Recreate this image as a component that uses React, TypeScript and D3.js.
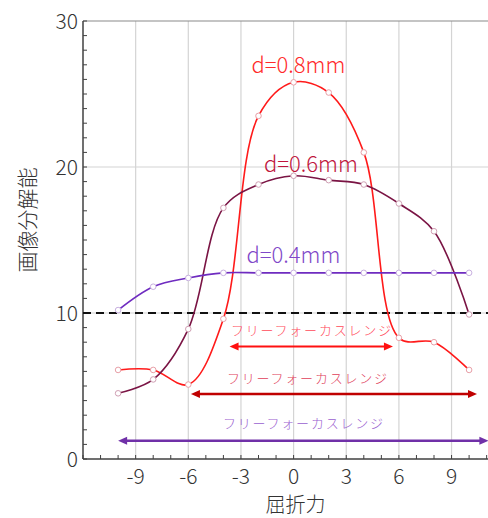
import React from "react";
import * as d3 from "d3";

const xs = [-10, -8, -6, -4, -2, 0, 2, 4, 6, 8, 10];
const d04 = [10.2, 11.8, 12.4, 12.75, 12.75, 12.75, 12.75, 12.75, 12.75, 12.75, 12.75];
const d06 = [4.5, 5.45, 8.9, 17.2, 18.8, 19.4, 19.1, 18.8, 17.5, 15.6, 9.9];
const d08 = [6.1, 6.1, 5.1, 9.6, 23.5, 25.8, 25.1, 21.0, 8.3, 8.0, 6.1];
const xTicks = [-9, -6, -3, 0, 3, 6, 9];
const yTicks = [0, 10, 20, 30];
const seriesNames = ["d=0.8mm", "d=0.6mm", "d=0.4mm"];
const rangeLabel = "フリーフォーカスレンジ";
const rangeStart = [-3.65, -5.85, -10];
const rangeEnd = [5.66, 10.45, 11.1];
const rangeLevel = [7.7, 4.45, 1.25];

const W = 488;
const H = 518;
const FONT = "'Noto Sans CJK JP', 'Noto Sans', sans-serif";

export default function App() {
  const x = d3.scaleLinear().domain([-12, 12]).range([83, 504.2]);
  const y = d3.scaleLinear().domain([0, 30]).range([459, 21]);
  const line = d3
    .line<[number, number]>()
    .x((d) => x(d[0]))
    .y((d) => y(d[1]))
    .curve(d3.curveCatmullRom.alpha(0.5));

  const series = [
    { vals: d08, color: "#ff1a1a", marker: "#e8a0a8", width: 1.6 },
    { vals: d06, color: "#7a1444", marker: "#d0a0b4", width: 1.6 },
    { vals: d04, color: "#6f2cc0", marker: "#c8b0e0", width: 1.6 },
  ];

  const labels = [
    { text: seriesNames[0], x: 251.5, y: 73, color: "#ff2a2a" },
    { text: seriesNames[1], x: 264, y: 171.5, color: "#c0143c" },
    { text: seriesNames[2], x: 246.5, y: 263, color: "#8048c8" },
  ];

  const ranges = [
    { color: "#ff1010", text: "#ff4a5a", tx: 231, ty: 335, w: 2 },
    { color: "#c00000", text: "#e0405a", tx: 227, ty: 383, w: 2.5 },
    { color: "#7030a8", text: "#9a60d0", tx: 223, ty: 428, w: 2.5 },
  ];

  const minorX = d3.range(-12, 13, 1);
  const minorY = d3.range(0, 31, 1);

  const arrowHead = (tipX: number, yy: number, dir: number, color: string) => {
    const L = 9;
    const hw = 4;
    return (
      <path
        d={`M${tipX},${yy} L${tipX - dir * L},${yy - hw} L${tipX - dir * L},${yy + hw} Z`}
        fill={color}
      />
    );
  };

  return (
    <svg
      width={W}
      height={H}
      style={{ position: "absolute", left: 0, top: 0, overflow: "hidden", background: "#fff" }}
      fontFamily={FONT}
    >
      <rect x={0} y={0} width={W} height={H} fill="#fff" />
      {xTicks.map((t) => (
        <line key={"gx" + t} x1={x(t)} x2={x(t)} y1={y(30)} y2={y(0)} stroke="#d4d4d4" strokeWidth={1.2} />
      ))}
      {[10, 20].map((t) => (
        <line key={"gy" + t} x1={x(-12)} x2={W} y1={y(t)} y2={y(t)} stroke="#d4d4d4" strokeWidth={1.2} />
      ))}
      <line x1={x(-12)} x2={W} y1={y(30)} y2={y(30)} stroke="#8a8a8a" strokeWidth={1.2} />
      {minorX.map((t) => (
        <line key={"mx" + t} x1={x(t)} x2={x(t)} y1={y(0)} y2={y(0) - 4} stroke="#404040" strokeWidth={1} />
      ))}
      {minorY.map((t) => (
        <line key={"my" + t} x1={x(-12)} x2={x(-12) + 4} y1={y(t)} y2={y(t)} stroke="#404040" strokeWidth={1} />
      ))}
      <line x1={x(-12)} x2={x(-12)} y1={y(30)} y2={y(0)} stroke="#404040" strokeWidth={1.5} />
      <line x1={x(-12)} x2={W} y1={y(0)} y2={y(0)} stroke="#404040" strokeWidth={1.5} />
      <line x1={x(-12)} x2={W} y1={y(10)} y2={y(10)} stroke="#111" strokeWidth={2} strokeDasharray="8,5" />
      {yTicks.map((t) => (
        <text key={"yl" + t} x={78} y={y(t)} dy="0.36em" textAnchor="end" fontSize={21} fontWeight={300} fill="#333">
          {t}
        </text>
      ))}
      {xTicks.map((t) => (
        <text key={"xl" + t} x={x(t)} y={484} textAnchor="middle" fontSize={21} fontWeight={300} fill="#333">
          {t}
        </text>
      ))}
      <text x={295.5} y={512} textAnchor="middle" fontSize={20} fontWeight={300} fill="#333">
        屈折力
      </text>
      <text
        transform={`translate(35,220) rotate(-90)`}
        textAnchor="middle"
        fontSize={21}
        fontWeight={300}
        fill="#333"
      >
        画像分解能
      </text>
      {ranges.map((r, i) => {
        const yy = y(rangeLevel[i]);
        const x1 = x(rangeStart[i]);
        const x2 = x(rangeEnd[i]);
        return (
          <g key={"r" + i}>
            <line x1={x1 + 6} x2={x2 - 6} y1={yy} y2={yy} stroke={r.color} strokeWidth={r.w} />
            {arrowHead(x1, yy, -1, r.color)}
            {arrowHead(x2, yy, 1, r.color)}
            <text x={r.tx} y={r.ty} fontSize={13} fontWeight={300} fill={r.text} textLength={160} lengthAdjust="spacing">
              {rangeLabel}
            </text>
          </g>
        );
      })}
      {series.map((s, i) => (
        <path
          key={"s" + i}
          d={line(xs.map((xv, j) => [xv, s.vals[j]] as [number, number])) || ""}
          fill="none"
          stroke={s.color}
          strokeWidth={s.width}
        />
      ))}
      {series.map((s, i) =>
        xs.map((xv, j) => (
          <circle
            key={"m" + i + "-" + j}
            cx={x(xv)}
            cy={y(s.vals[j])}
            r={2.8}
            fill="#fff"
            stroke={s.marker}
            strokeWidth={1}
          />
        ))
      )}
      {labels.map((l, i) => (
        <text key={"lab" + i} x={l.x} y={l.y} fontSize={22} fontWeight={300} fill={l.color}>
          {l.text}
        </text>
      ))}
    </svg>
  );
}
